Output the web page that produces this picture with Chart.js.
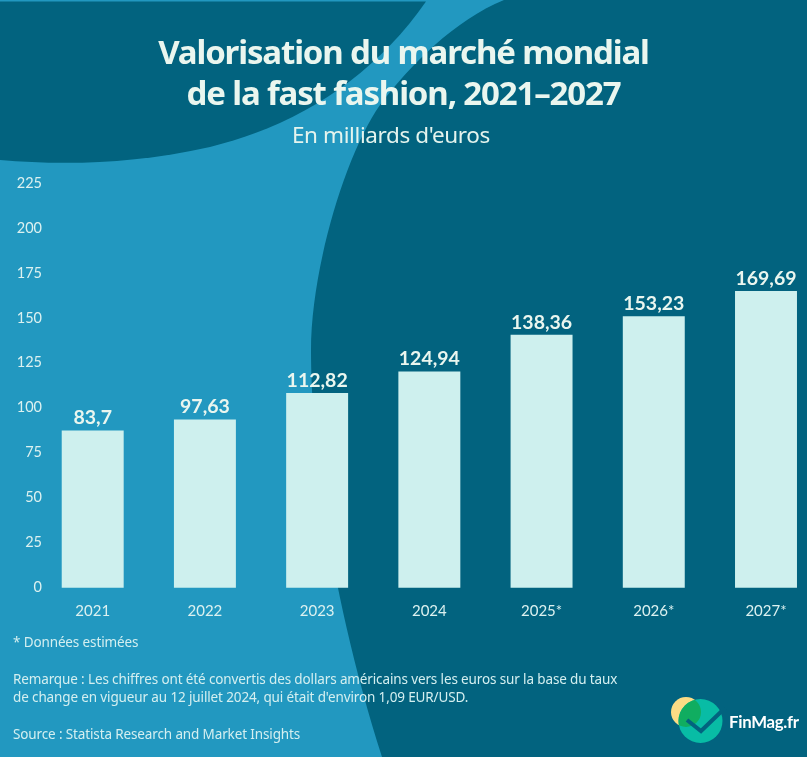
<!DOCTYPE html>
<html lang="fr">
<head>
<meta charset="utf-8">
<title>Valorisation du marché mondial de la fast fashion</title>
<script src="https://cdn.jsdelivr.net/npm/chart.js@4"></script>
<style>
    html, body { margin: 0; padding: 0; overflow: hidden; background: #02637f; }
    #page { position: relative; width: 807px; height: 757px; overflow: hidden; }
    #page svg, #page canvas { position: absolute; left: 0; top: 0; }
    .t { position: absolute; white-space: nowrap; }
    .title { left: 0; width: 807px; text-align: center; color: #eaf6ef; font: 700 33px/41px "Noto Sans"; letter-spacing: -1.15px; }
    .sub { left: 292px; top: 120px; color: #e4f4ee; font: 400 22.5px/30px "Noto Sans"; letter-spacing: -0.4px; }
    .note { left: 13px; color: #d4eff0; font: 400 13.5px/18px "Noto Sans"; letter-spacing: -0.13px; }
    .logo { left: 729px; top: 710px; color: #fff; font: 700 16.8px/24px Lato; letter-spacing: -0.3px; }
</style>
</head>
<body>
<div id="page">
    <svg width="807" height="757" viewBox="0 0 807 757">
        <defs>
            <clipPath id="sun"><circle cx="686" cy="712" r="15"/></clipPath>
        </defs>
        <rect width="807" height="757" fill="#02637f"/>
        <path fill="#2298c0" d="M0 0 L504 0 C455 20 410 65 380 105 C345 155 311 270 311 350 C311 450 332 600 382 757 L0 757 Z"/>
        <path fill="#02637f" d="M0 160 C60 165 130 165 210 147 C300 125 375 75 426 1.5 L0 1.5 Z"/>
        <circle cx="686" cy="712" r="15" fill="#fbdc85"/>
        <circle cx="700.5" cy="721" r="22" fill="#08bca5"/>
        <circle cx="700.5" cy="721" r="22" fill="#10ad60" clip-path="url(#sun)"/>
        <path fill="none" stroke="#02637f" stroke-width="4" d="M687 720 L701 731 L725 708"/>
    </svg>
    <canvas id="chart"></canvas>
    <div class="t title" style="top:31px">Valorisation du marché mondial</div>
    <div class="t title" style="top:72px">de la fast fashion, 2021–2027</div>
    <div class="t sub">En milliards d'euros</div>
    <div class="t note" style="top:633px">* Données estimées</div>
    <div class="t note" style="top:670px">Remarque : Les chiffres ont été convertis des dollars américains vers les euros sur la base du taux</div>
    <div class="t note" style="top:688px">de change en vigueur au 12 juillet 2024, qui était d'environ 1,09 EUR/USD.</div>
    <div class="t note" style="top:725px">Source : Statista Research and Market Insights</div>
    <div class="t logo">FinMag.fr</div>
</div>
<script>
const years = ['2021', '2022', '2023', '2024', '2025*', '2026*', '2027*'];
// bar heights as they stand against the drawn axis
const barValues = [87.2, 93.2, 108, 120, 140.4, 150.7, 164.8];
// figures printed above the bars
const printedValues = ['83,7', '97,63', '112,82', '124,94', '138,36', '153,23', '169,69'];
const axisTicks = [0, 25, 50, 75, 100, 125, 150, 175, 200, 225];

// draws the printed figures just above each bar
const barLabels = {
    id: 'barLabels',
    afterDatasetsDraw(chart) {
        const ctx = chart.ctx;
        ctx.save();
        ctx.font = '700 19.5px Lato';
        ctx.fillStyle = '#eaf6ef';
        ctx.textAlign = 'center';
        ctx.textBaseline = 'alphabetic';
        chart.getDatasetMeta(0).data.forEach((bar, i) => {
            ctx.fillText(printedValues[i], bar.x, bar.y - 6.5);
        });
        ctx.restore();
    }
};

const canvas = document.getElementById('chart');
canvas.style.width = '807px';
canvas.style.height = '757px';
canvas.width = 807;
canvas.height = 757;

new Chart(canvas, {
    type: 'bar',
    data: {
        labels: years,
        datasets: [{
            data: barValues,
            backgroundColor: '#cef0ee',
            barThickness: 61.3,
            clip: false,
        }],
    },
    options: {
        responsive: false,
        animation: false,
        layout: {
            autoPadding: false,
            padding: { left: 0, right: 41, top: 183, bottom: 0 },
        },
        plugins: {
            legend: { display: false },
            tooltip: { enabled: false },
        },
        scales: {
            x: {
                offset: false,
                grid: { display: false, drawTicks: false },
                border: { display: false },
                afterFit: (scale) => { scale.height = 169.5; },
                ticks: {
                    color: '#dcf1f0',
                    font: { family: 'Lato', size: 15 },
                    padding: 15,
                    maxRotation: 0,
                    autoSkip: false,
                },
            },
            y: {
                min: 0,
                max: 225,
                grid: { display: false, drawTicks: false },
                border: { display: false },
                afterFit: (scale) => { scale.width = 92.7; },
                afterBuildTicks: (scale) => { scale.ticks = axisTicks.map((v) => ({ value: v })); },
                ticks: {
                    color: '#dcf1f0',
                    font: { family: 'Lato', size: 14.5 },
                    padding: 50.7,
                },
            },
        },
    },
    plugins: [barLabels],
});
</script>
</body>
</html>
